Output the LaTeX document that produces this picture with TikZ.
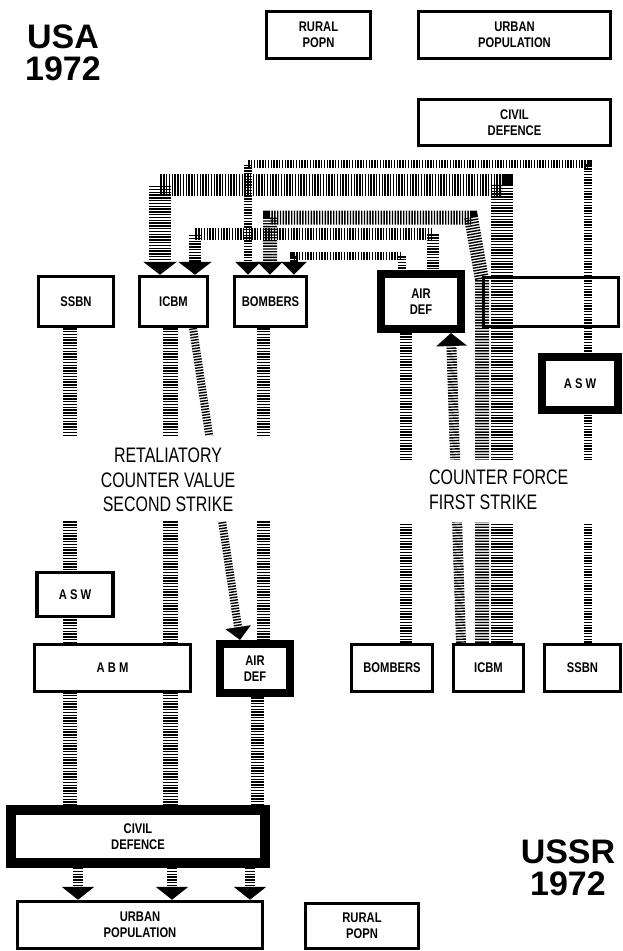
\documentclass[tikz,border=0pt]{standalone}
\usepackage{fontspec}
\setmainfont{Liberation Sans}
\newfontfamily\narrowfont[FakeStretch=0.8]{Liberation Sans Bold}
\newfontfamily\captionfont[FakeStretch=0.76]{Liberation Sans}
\usetikzlibrary{arrows.meta,backgrounds}

\begin{document}
\begin{tikzpicture}[x=1pt, y=-1pt,
box/.style={draw, line width=3.5pt, fill=white, inner sep=0pt, align=center, font=\narrowfont\fontsize{14}{16}\selectfont} ,
heavybox/.style={box, line width=8pt} ,
band/.style={line width=#1, dash pattern=on 1.4pt off 1.4pt} ,
hit/.style={-{Triangle[width=#1, length=13pt]}} ,
hit/.default=30pt ,
gap/.style={fill=white} ,
title/.style={font=\bfseries\fontsize{34}{32}\selectfont, align=center, inner sep=0pt, anchor=north} ,
caption/.style={font=\captionfont\fontsize{21}{24.5}\selectfont, inner sep=0pt}
]
\useasboundingbox (0,0) rectangle (622,951) ;

% USA 1972
\node [title] (usa) at (63,25) {USA\\1972} ;
\node [box, minimum width=104pt, minimum height=47pt] (urural) at (318.5,35) {RURAL\\POPN} ;
\node [box, minimum width=192pt, minimum height=47pt] (uurban) at (514.5,35) {URBAN\\POPULATION} ;
\node [box, minimum width=192pt, minimum height=46pt] (ucivil) at (514.5,122.5) {CIVIL\\DEFENCE} ;
\node [box, minimum width=75pt, minimum height=50pt] (ussbn) at (76,301.5) {SSBN} ;
\node [box, minimum width=68pt, minimum height=50pt] (uicbm) at (173.5,301.5) {ICBM} ;
\node [box, minimum width=72pt, minimum height=50pt] (ubombers) at (270.5,301.5) {BOMBERS} ;
\node [heavybox, minimum width=80pt, minimum height=55pt] (uairdef) at (421,301.5) {AIR\\DEF} ;
\node [box, fill=none, minimum width=135pt, minimum height=49pt] (uabm) at (551,302) {} ;
\node [heavybox, minimum width=76pt, minimum height=53pt] (uasw) at (580,383.5) {A S W} ;

% USSR 1972
\node [title] (ussr) at (568,840) {USSR\\1972} ;
\node [box, minimum width=76pt, minimum height=44pt] (rasw) at (75,594.5) {A S W} ;
\node [box, minimum width=156pt, minimum height=47pt] (rabm) at (112.5,668) {A B M} ;
\node [heavybox, minimum width=70pt, minimum height=49pt] (rairdef) at (255,668.5) {AIR\\DEF} ;
\node [box, minimum width=81pt, minimum height=47pt] (rbombers) at (392,668) {BOMBERS} ;
\node [box, minimum width=70pt, minimum height=47pt] (ricbm) at (488.5,668) {ICBM} ;
\node [box, minimum width=76pt, minimum height=47pt] (rssbn) at (582.5,668) {SSBN} ;
\node [heavybox, line width=10pt, minimum width=254pt, minimum height=53pt] (rcivil) at (138,836.5) {CIVIL\\DEFENCE} ;
\node [box, minimum width=245pt, minimum height=47pt] (rurban) at (140,925) {URBAN\\POPULATION} ;
\node [box, minimum width=113pt, minimum height=45pt] (rrural) at (362,926) {RURAL\\POPN} ;

\node [caption, align=center, anchor=north] (retaliate) at (168,448) {RETALIATORY\\COUNTER VALUE\\SECOND STRIKE} ;
\node [caption, align=left, anchor=north west] (firststrike) at (429,470) {COUNTER FORCE\\FIRST STRIKE} ;

% columns and targets
\coordinate (colS) at (588,0) ;
\coordinate (colIa) at (502,0) ;
\coordinate (colIb) at (482,0) ;
\coordinate (colB) at (406,0) ;
\coordinate (colAa) at (433,0) ;
\coordinate (colAb) at (402,0) ;
\coordinate (colL1) at (70,0) ;
\coordinate (colL2) at (170,0) ;
\coordinate (colL3) at (263,0) ;
\coordinate (colL3b) at (257,0) ;
\coordinate (ib1) at ([xshift=-13.5pt]uicbm.north) ;
\coordinate (ib2) at ([xshift=21.5pt]uicbm.north) ;
\coordinate (bb1) at ([xshift=-22.5pt]ubombers.north) ;
\coordinate (bb2) at ([xshift=-0.5pt]ubombers.north) ;
\coordinate (bb3) at ([xshift=23.5pt]ubombers.north) ;

\begin{scope}[on background layer]
% counter force
\draw [band=8pt, hit=25pt] (rssbn.north -| colS) -- (588,163.5) -- (248,163.5) -- (bb1) ;
\draw [band=22pt, hit=33pt] (ricbm.north -| colIa) -- (502,185) -- (160,185) -- (ib1) ;
\draw [band=14pt, hit=25pt] (ricbm.north -| colIb) -- (482,280) -- (471,217.5) -- (270,217.5) -- (bb2) ;
\draw [band=10pt, hit=30pt] ([xshift=-27.5pt]ricbm.north) -- ([xshift=30pt]uairdef.south) ;
\draw [band=12pt, hit=33pt] (rbombers.north -| colB) -- (uairdef.center -| colB) -- (uairdef.center -| colAa) -- (433,234) -- (195,234) -- (ib2) ;
\draw [band=8pt, hit=25pt] (rbombers.north -| colB) -- (uairdef.center -| colB) -- (uairdef.center -| colAb) -- (402,255.5) -- (294,255.5) -- (bb3) ;
% counter value
\draw [band=14pt] (ussbn.south -| colL1) -- (rcivil.north -| colL1) ;
\draw [band=15pt] (uicbm.south -| colL2) -- (rcivil.north -| colL2) ;
\draw [band=8pt, hit=25pt] ([xshift=19.5pt]uicbm.south) -- ([xshift=-15pt]rairdef.north) ;
\draw [band=13pt] (ubombers.south -| colL3) -- (rairdef.center -| colL3) -- (rairdef.center -| colL3b) -- (rcivil.north -| colL3b) ;
\foreach \x in {78,172,250} {
  \coordinate (drop) at (\x,0) ;
  \draw [band=10pt, hit=32pt] (rcivil.south -| drop) -- (rurban.north -| drop) ;
}
% breaks behind the captions
\fill [gap] (0,436) rectangle (330,521) ;
\fill [gap] (370,460) rectangle (622,522) ;
\end{scope}
\end{tikzpicture}
\end{document}
